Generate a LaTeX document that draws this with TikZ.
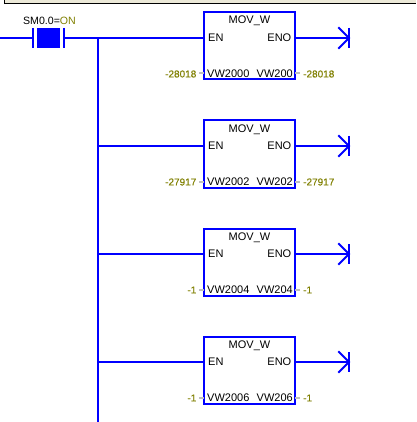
\documentclass[tikz,border=0pt]{standalone}
\usepackage{fontspec}
\setmainfont{Liberation Sans}
\newfontfamily\valfont[FakeBold=0.2]{Liberation Sans}
\definecolor{ladder}{RGB}{0,0,255}
\definecolor{olivetxt}{RGB}{128,128,0}
\definecolor{stub}{RGB}{192,192,192}
\definecolor{strip}{RGB}{236,233,216}
\tikzset{
  x=1pt,y=-1pt,
  wire/.style={draw=ladder,line width=2pt},
  blockbox/.style={draw=ladder,line width=2pt,fill=white,minimum width=91pt,minimum height=67pt,inner sep=0pt,outer sep=0pt},
  txt/.style={font=\fontsize{11}{11}\selectfont,inner sep=0pt,text=black},
  val/.style={font=\valfont\fontsize{10}{10}\selectfont,inner sep=0pt,text=olivetxt},
  stubline/.style={draw=stub,line width=2pt}
}
\newcommand{\movblock}[6]{%
  % #1 name, #2 y of EN rung, #3 in-addr, #4 out-addr, #5 in-val, #6 out-val
  \node[blockbox] (#1) at (249.5,#2+8) {};
  \coordinate (#1en) at (204,#2);
  \coordinate (#1eno) at (295,#2);
  \coordinate (#1bus) at (98,#2);
  \coordinate (#1end) at (349,#2);
  \draw[wire] (#1bus) -- (#1en);
  \draw[wire] (#1eno) -- (#1end);
  \draw[wire,line cap=rect] (339,#2-10) -- (#1end) -- (339,#2+10);
  \draw[wire] (349,#2-10) -- (349,#2+10);
  \node[txt,anchor=base] at (249.5,#2-14) {MOV\_W};
  \node[txt,anchor=west] at (208,#2) {EN};
  \node[txt,anchor=east] at (291.5,#2) {ENO};
  \node[txt,anchor=west] at (207,#2+36) {#3};
  \node[txt,anchor=east] at (293,#2+36) {#4};
  \node[val,anchor=east] (#1inv) at (196.5,#2+36) {#5};
  \node[val,anchor=west] (#1outv) at (303,#2+36) {#6};
  \coordinate (#1sl) at (199,#2+35.5);
  \coordinate (#1sr) at (300,#2+35.5);
  \draw[stubline] (#1sl) -- (#1sl -| #1.west);
  \draw[stubline] (#1sr) -- (#1sr -| #1.east);
}
\begin{document}
\begin{tikzpicture}
\useasboundingbox (0,0) rectangle (416,422);
\fill[white] (0,0) rectangle (416,422);
\fill[strip] (4.5,0) rectangle (416,3.5);
\draw[black,line width=1pt] (4.5,0) -- (4.5,3.5) -- (416,3.5);
\node[txt,font=\fontsize{10.6}{11}\selectfont] (sm) at (49.5,20.5) {SM0.0=\textcolor{olivetxt}{ON}};
\coordinate (l0) at (0,38);
\coordinate (l1) at (33,38);
\coordinate (r1) at (64,38);
\coordinate (j0) at (98,38);
\coordinate (b0) at (98,422);
\draw[wire] (l0) -- (l1);
\draw[wire] (33,28) -- (33,48);
\draw[wire] (64,28) -- (64,48);
\fill[ladder] (37,28) rectangle (60,48);
\draw[wire] (r1) -- (j0);
\draw[wire] (j0) -- (b0);
\movblock{a}{38}{VW2000}{VW200}{-28018}{-28018}
\movblock{b}{146}{VW2002}{VW202}{-27917}{-27917}
\movblock{c}{254}{VW2004}{VW204}{-1}{-1}
\movblock{d}{362}{VW2006}{VW206}{-1}{-1}
\end{tikzpicture}
\end{document}
